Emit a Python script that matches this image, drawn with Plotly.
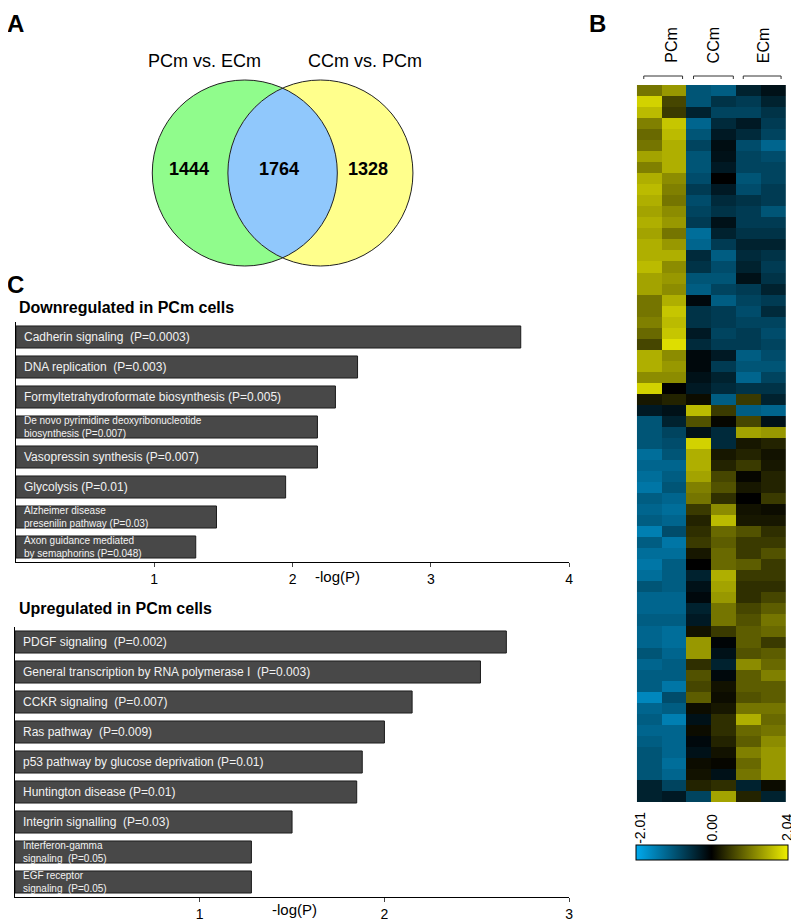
import numpy as np
import plotly.graph_objects as go

# reference canvas is 799x923; the page body adds an 8px margin, so the figure is shrunk by it
REF_W, REF_H, OFF = 799, 923, 8
W, H = REF_W - OFF, REF_H - OFF

# Panel A: Venn counts
venn_sets = ["PCm vs. ECm", "CCm vs. PCm"]
venn_counts = [1444, 1764, 1328]  # left only, shared, right only

# Panel C: enriched pathways
down_terms = ["Cadherin signaling  (P=0.0003)", "DNA replication  (P=0.003)",
              "Formyltetrahydroformate biosynthesis (P=0.005)",
              "De novo pyrimidine deoxyribonucleotide<br>biosynthesis (P=0.007)",
              "Vasopressin synthesis (P=0.007)", "Glycolysis (P=0.01)",
              "Alzheimer disease<br>presenilin pathway (P=0.03)",
              "Axon guidance mediated<br>by semaphorins (P=0.048)"]
down_vals = [3.65, 2.47, 2.31, 2.18, 2.18, 1.95, 1.45, 1.30]
down_ticks = [1, 2, 3, 4]

up_terms = ["PDGF signaling  (P=0.002)",
            "General transcription by RNA polymerase I  (P=0.003)",
            "CCKR signaling  (P=0.007)", "Ras pathway  (P=0.009)",
            "p53 pathway by glucose deprivation (P=0.01)",
            "Huntington disease (P=0.01)", "Integrin signalling  (P=0.03)",
            "Interferon-gamma<br>signaling  (P=0.05)",
            "EGF receptor<br>signaling  (P=0.05)"]
up_vals = [2.66, 2.52, 2.15, 2.00, 1.88, 1.85, 1.50, 1.28, 1.28]
up_ticks = [1, 2, 3]

# Panel B: heatmap columns (top row first)
groups = ["PCm", "CCm", "ECm"]
pcm_a = [1.0, 1.8, 1.6, 1.1, 0.9, 1.0, 1.4, 1.1, 1.5, 1.6, 1.5, 1.4, 1.5, 1.4, 1.5,
         1.5, 1.6, 1.4, 1.4, 1.0, 1.0, 1.1, 0.9, 0.6, 1.5, 1.5, 1.2, 1.8, 0.2, -0.3, -1.0, -1.0,
         -1.0, -1.3, -1.2, -1.3, -1.4, -1.1, -1.2, -1.1, -1.5, -1.1, -1.3, -1.4, -1.3, -1.0, -1.2, -1.2,
         -1.1, -1.2, -1.2, -1.0, -1.2, -1.1, -1.1, -1.6, -1.2, -1.1, -1.2, -1.1, -1.0, -1.0, -1.0, -0.4, -0.4]
pcm_b = [1.3, 0.6, 0.5, 1.7, 1.6, 1.5, 1.5, 1.5, 1.2, 1.1, 1.0, 1.2, 1.3, 1.0, 1.3,
         1.5, 1.2, 1.3, 1.2, 1.5, 1.7, 1.6, 1.7, 1.9, 1.2, 1.3, 1.2, 0.0, 0.3, -0.2, -0.4, -0.8,
         -0.9, -1.0, -1.2, -1.1, -1.0, -1.2, -1.3, -1.2, -0.9, -1.4, -1.3, -1.1, -1.1, -1.1, -1.2, -1.2,
         -1.1, -1.3, -1.3, -1.2, -1.1, -1.1, -1.4, -0.9, -1.1, -1.5, -1.2, -1.2, -1.2, -1.3, -1.2, -0.8, -0.3]
ccm_a = [-1.0, -1.0, -0.4, -1.2, -1.0, -0.8, -1.0, -1.0, -0.9, -0.7, -0.9, -0.8, -0.7, -1.3, -1.2,
         -0.5, -0.6, -1.0, -1.1, -0.1, -0.6, -0.6, -0.3, -0.5, -0.1, -0.1, -0.2, -0.3, 0.1, 1.6, 0.7, -0.2,
         1.8, 1.5, 1.5, 1.4, 1.1, 1.0, 0.5, 0.3, 0.4, 0.5, 0.2, 0.0, -0.4, -0.2, -0.1, -0.4,
         -0.3, 0.15, 1.3, 1.3, 0.4, 0.7, 0.6, 0.8, 0.1, -0.2, 0.1, -0.1, -0.2, 0.1, 0.15, 0.3, -0.8]
ccm_b = [-1.1, -0.6, -0.8, -0.5, -0.3, -0.15, -0.2, -0.3, 0.0, -0.3, -0.5, -0.6, -0.2, -0.4, -0.7,
         -1.1, -0.9, -1.0, -0.8, -1.1, -0.7, -0.7, -0.8, -0.7, -0.3, -0.7, -0.4, -0.5, -1.1, 0.5, 0.05, -0.5,
         -0.5, 0.2, 0.3, 0.6, 0.7, 0.4, 1.2, 1.6, 0.9, 0.8, 0.9, 0.9, 1.5, 1.4, 1.3, 1.0,
         1.0, 0.5, -0.05, -0.2, -0.4, -0.1, 0.15, 0.1, 0.2, 0.4, 0.4, 0.3, 0.15, 0.05, -0.2, 0.4, 1.4]
ecm_a = [-0.4, -0.7, -0.8, -0.3, -0.5, -0.9, -0.8, -0.8, -1.0, -0.9, -0.6, -0.7, -0.7, -0.6, -0.4,
         -0.5, -0.4, -0.2, -0.7, -0.8, -0.9, -0.8, -0.7, -0.7, -1.1, -1.0, -1.2, -0.6, 0.5, -1.1, 0.6, 1.4,
         0.2, 0.3, 0.5, 0.05, 0.2, 0.0, 0.15, 0.2, 0.7, 0.5, 0.5, 0.8, 0.5, 0.4, 0.4, 0.6,
         0.7, 0.8, 0.8, 0.7, 1.2, 0.8, 0.8, 0.7, 1.0, 1.5, 0.9, 0.8, 1.1, 0.9, 1.0, -0.4, 0.3]
ecm_b = [-0.2, -0.4, -0.6, -0.7, -0.8, -1.2, -0.9, -0.8, -0.8, -0.7, -0.7, -1.0, -0.7, -0.6, -0.4,
         -0.6, -0.7, -0.6, -0.4, -0.7, -0.5, -0.8, -0.9, -0.8, -0.9, -1.0, -0.8, -0.6, -0.4, -1.2, -0.2, 1.3,
         0.3, 0.15, 0.2, 0.3, 0.3, 0.5, 0.1, 0.2, 0.4, 0.5, 0.7, 0.5, 0.5, 0.4, 0.6, 0.8,
         1.0, 0.9, 0.5, 0.8, 0.9, 1.1, 0.8, 0.8, 1.0, 0.9, 1.0, 1.2, 1.3, 1.3, 1.3, 0.1, -0.4]
z_min, z_max = -2.01, 2.04
scale_labels = ["-2.01", "0.00", "2.04"]

FONT = "Arial, Liberation Sans, sans-serif"


def px(x):
    # reference pixel x -> paper fraction
    return (x - OFF) / W


def py(y):
    return 1 - (y - OFF) / H


def label(x, y, text, size, **kw):
    d = dict(x=px(x), y=py(y), xref="paper", yref="paper", text=text, showarrow=False,
             xanchor="center", yanchor="middle", font=dict(size=size))
    d.update(kw)
    return d


fig = go.Figure()

# --- bar charts (panel C) ---
bar_style = dict(orientation="h", marker=dict(color="#484848", line=dict(color="#1c1c1c", width=1)),
                 hoverinfo="skip", showlegend=False)
fig.add_trace(go.Bar(x=down_vals, y=down_terms, xaxis="x", yaxis="y", **bar_style))
fig.add_trace(go.Bar(x=up_vals, y=up_terms, xaxis="x2", yaxis="y2", **bar_style))

# --- heatmap (panel B) ---
z = np.array([pcm_a, pcm_b, ccm_a, ccm_b, ecm_a, ecm_b]).T
fig.add_trace(go.Heatmap(
    z=z, xaxis="x3", yaxis="y3", zmin=z_min, zmax=z_max,
    colorscale=[[0, "#00aaee"], [(0 - z_min) / (z_max - z_min), "#000000"], [1, "#eeee00"]],
    hoverinfo="skip",
    colorbar=dict(orientation="h", x=px(716), xanchor="center", y=py(845), yanchor="top",
                  lenmode="pixels", len=152, thicknessmode="pixels", thickness=15,
                  xpad=0, ypad=0, outlinecolor="black", outlinewidth=1,
                  showticklabels=False, ticks="")))

axis_common = dict(showgrid=False, zeroline=False, showline=True, linecolor="black", linewidth=1)
fig.update_layout(
    width=W, height=H, margin=dict(l=0, r=0, t=0, b=0),
    paper_bgcolor="white", plot_bgcolor="white", bargap=0.265,
    font=dict(family=FONT, color="black"),
    xaxis=dict(domain=[px(16), px(572)], anchor="y", range=[0, 4], tickvals=down_ticks,
               ticks="outside", ticklen=4, tickfont=dict(size=14), **axis_common),
    yaxis=dict(domain=[py(562), py(322)], anchor="x", autorange="reversed",
               showticklabels=False, ticks="", **axis_common),
    xaxis2=dict(domain=[px(15), px(572)], anchor="y2", range=[0, 3], tickvals=up_ticks,
                ticks="outside", ticklen=4, tickfont=dict(size=14), **axis_common),
    yaxis2=dict(domain=[py(897), py(627)], anchor="x2", autorange="reversed",
                showticklabels=False, ticks="", **axis_common),
    xaxis3=dict(domain=[px(640), px(790)], anchor="y3", visible=False),
    yaxis3=dict(domain=[py(802), py(85)], anchor="x3", autorange="reversed", visible=False),
)

ann = []
# bar labels inside bars
for terms, xr, yr in [(down_terms, "x", "y"), (up_terms, "x2", "y2")]:
    for t in terms:
        ann.append(dict(x=0, y=t, xref=xr, yref=yr, text=t, showarrow=False, xanchor="left",
                        yanchor="middle", xshift=6, align="left",
                        font=dict(size=10 if "<br>" in t else 12, color="#f2f2f2")))

# axis titles and section titles
ann.append(label(339, 576, "-log(P)", 15))
ann.append(label(296, 909, "-log(P)", 15))
ann.append(label(17, 308, "<b>Downregulated in PCm cells</b>", 16, xanchor="left"))
ann.append(label(17, 608, "<b>Upregulated in PCm cells</b>", 16, xanchor="left"))

# panel letters (top ones hang from the page top so their box stays inside)
ann.append(label(16, OFF, "<b>A</b>", 24, yanchor="top"))
ann.append(label(600, OFF, "<b>B</b>", 24, yanchor="top"))
ann.append(label(16, 285, "<b>C</b>", 24))

# --- Venn (panel A) ---
r = 93
lc, rc, cy = (246, 173), (322, 173), 173
shapes = []


def circle(cx, **kw):
    return dict(type="circle", xref="paper", yref="paper", x0=px(cx - r), x1=px(cx + r),
                y0=py(cy + r), y1=py(cy - r), **kw)


for (cx, _), col in [(lc, "#90fc8c"), (rc, "#ffff8c")]:
    shapes.append(circle(cx, fillcolor=col, line=dict(width=0)))
d = (rc[0] - lc[0]) / 2
a = np.arccos(d / r)
t1 = np.linspace(-a, a, 60)
t2 = np.linspace(np.pi - a, np.pi + a, 60)
xs = np.concatenate([lc[0] + r * np.cos(t1), rc[0] + r * np.cos(t2)])
ys = np.concatenate([cy + r * np.sin(t1), cy + r * np.sin(t2)])
path = "M " + " L ".join(f"{px(x):.5f},{py(y):.5f}" for x, y in zip(xs, ys)) + " Z"
shapes.append(dict(type="path", xref="paper", yref="paper", path=path,
                   fillcolor="#90c8fc", line=dict(width=0)))
for cx, _ in [lc, rc]:
    shapes.append(circle(cx, line=dict(color="#222222", width=1)))

for name, nx in zip(venn_sets, [205, 367]):
    ann.append(label(nx, 61, name, 18))
for cnt, nx in zip(venn_counts, [190, 280, 370]):
    ann.append(label(nx, 169, f"<b>{cnt}</b>", 18))

# heatmap group labels and brackets
for g, lx, (b0, b1) in zip(groups, [675, 718, 768], [(647, 686), (697, 737), (747, 785)]):
    ann.append(label(lx, 45, g, 16, textangle=-90))
    shapes.append(dict(type="path", xref="paper", yref="paper",
                       path=f"M {px(b0)},{py(79)} L {px(b0)},{py(76)} L {px(b1)},{py(76)} L {px(b1)},{py(79)}",
                       line=dict(color="#333333", width=1)))

# colorbar labels
for lab, lx in zip(scale_labels, [643, 716, 791]):
    ann.append(label(lx, 828, lab, 14, textangle=-90))

fig.update_layout(annotations=ann, shapes=shapes)
fig.write_html("out.html")
